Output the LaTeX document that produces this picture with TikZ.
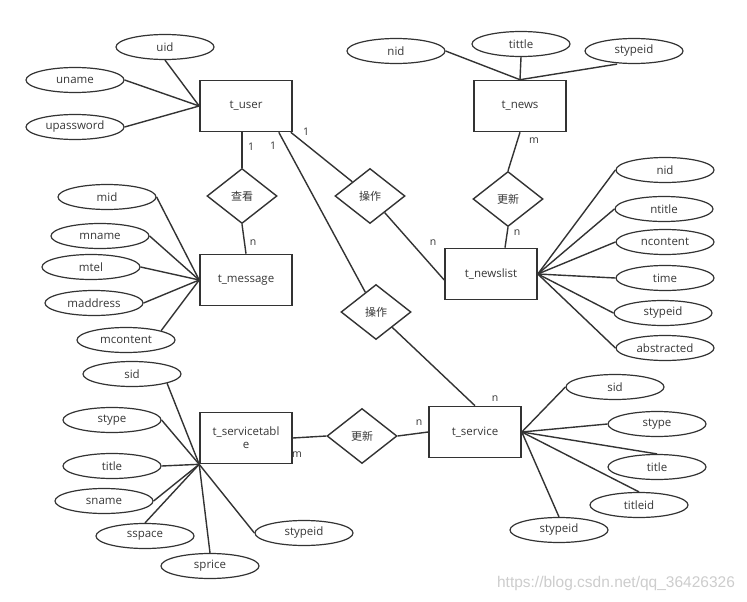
\documentclass[tikz,border=0pt]{standalone}
\usepackage{fontspec}
\setmainfont{Open Sans}
\newfontfamily\cjk{Noto Sans CJK SC}
\newfontfamily\wmfont{Liberation Sans}
\usetikzlibrary{shapes.geometric}
\definecolor{ln}{RGB}{51,51,51}
\definecolor{tx}{RGB}{55,55,55}
\definecolor{wm}{RGB}{205,205,205}
\begin{document}
\begin{tikzpicture}[x=1pt,y=-1pt,
  font=\fontsize{11.5}{13}\selectfont, text=tx,
  entity/.style={draw=ln, line width=1.6pt, minimum width=92pt, minimum height=51pt, inner sep=0pt, align=center},
  attr/.style={ellipse, draw=ln, line width=1.2pt, minimum width=98pt, minimum height=25pt, inner sep=0pt},
  rel/.style={diamond, draw=ln, line width=1.4pt, minimum width=70pt, minimum height=55pt, inner sep=0pt, font=\cjk\fontsize{11}{12}\selectfont},
  conn/.style={draw=ln, line width=1.4pt},
  card/.style={font=\fontsize{10.5}{12}\selectfont, text=tx, inner sep=0pt}]
\useasboundingbox[fill=white] (0,0) rectangle (747,602);

% entities
\node[entity] (user) at (246,106) {t\_user};
\node[entity] (news) at (520,106) {t\_news};
\node[entity] (msg) at (246,280) {t\_message};
\node[entity] (nlist) at (491,274) {t\_newslist};
\node[entity] (stab) at (246,438) {t\_servicetabl\\e};
\node[entity] (serv) at (475,432) {t\_service};

% relationships
\node[rel] (look) at (242,196) {查看};
\node[rel] (op1) at (370,196) {操作};
\node[rel] (upd1) at (508,199) {更新};
\node[rel] (op2) at (376,312) {操作};
\node[rel] (upd2) at (362,436) {更新};

% attributes
\node[attr] (uid) at (165,47) {uid};
\node[attr] (uname) at (75,80) {uname};
\node[attr] (upw) at (75,127) {upassword};

\node[attr] (nnid) at (396,51) {nid};
\node[attr] (ntittle) at (521,44) {tittle};
\node[attr] (nstypeid) at (634,51) {stypeid};

\node[attr] (lnid) at (665,170) {nid};
\node[attr] (lntitle) at (664,209) {ntitle};
\node[attr] (lncontent) at (665,242) {ncontent};
\node[attr] (ltime) at (665,278) {time};
\node[attr] (lstypeid) at (663,313) {stypeid};
\node[attr] (labs) at (665,348) {abstracted};

\node[attr] (mid) at (107,197) {mid};
\node[attr] (mname) at (100,236) {mname};
\node[attr] (mtel) at (91,267) {mtel};
\node[attr] (maddr) at (94,303) {maddress};
\node[attr] (mcont) at (126,340) {mcontent};

\node[attr] (tsid) at (132,374) {sid};
\node[attr] (tstype) at (112,420) {stype};
\node[attr] (ttitle) at (112,466) {title};
\node[attr] (tsname) at (104,501) {sname};
\node[attr] (tsspace) at (145,536) {sspace};
\node[attr] (tsprice) at (210,566) {sprice};
\node[attr] (tstypeid) at (304,533) {stypeid};

\node[attr] (ssid) at (615,387) {sid};
\node[attr] (sstype) at (657,424) {stype};
\node[attr] (stitle) at (657,467) {title};
\node[attr] (stitleid) at (639,505) {titleid};
\node[attr] (sstypeid) at (559,530) {stypeid};

% attribute connectors
\draw[conn] (uid.south) -- (user.west);
\draw[conn] (uname.east) -- (user.west);
\draw[conn] (upw.east) -- (user.west);

\draw[conn] (nnid.east) -- (news.north);
\draw[conn] (ntittle.south) -- (news.north);
\draw[conn] ([xshift=-17pt]nstypeid.south) -- (news.north);

\foreach \a in {lnid,lntitle,lncontent,ltime,lstypeid,labs}
  \draw[conn] (\a.west) -- (nlist.east);

\foreach \a in {mid,mname,mtel,maddr}
  \draw[conn] (\a.east) -- (msg.west);
\draw[conn] (mcont.north east) -- (msg.west);

\draw[conn] (tsid.south east) -- (stab.south west);
\draw[conn] (tstype.east) -- (stab.south west);
\draw[conn] (ttitle.east) -- (stab.south west);
\draw[conn] (tsname.east) -- (stab.south west);
\draw[conn] (tsspace.north) -- (stab.south west);
\draw[conn] (tsprice.north) -- (stab.south west);
\draw[conn] (tstypeid.west) -- (stab.south west);

\draw[conn] (ssid.west) -- (serv.east);
\draw[conn] (sstype.west) -- (serv.east);
\draw[conn] (stitle.north) -- (serv.east);
\draw[conn] (stitleid.north) -- (serv.east);
\draw[conn] (sstypeid.north) -- (serv.east);

% relationship connectors
\draw[conn] ([xshift=-4pt]user.south) -- (look.north);
\draw[conn] (look.south) -- (msg.north);
\draw[conn] ([xshift=-2pt]user.south east) -- (op1);
\draw[conn] (op1) -- ([yshift=-6pt]nlist.west);
\draw[conn] ([xshift=-14pt]user.south east) -- (op2);
\draw[conn] (op2) -- (serv.north);
\draw[conn] (news.south) -- (upd1.north);
\draw[conn] (upd1.south) -- ([xshift=14pt]nlist.north);
\draw[conn] (stab.east) -- (upd2.west);
\draw[conn] (upd2.east) -- (serv.west);

% cardinalities
\node[card] (c1) at (251,147) {1};
\node[card] (c2) at (253,243) {n};
\node[card] (c3) at (306,132) {1};
\node[card] (c4) at (433,243) {n};
\node[card] (c5) at (273,146) {1};
\node[card] (c6) at (495,399) {n};
\node[card] (c7) at (534,141) {m};
\node[card] (c8) at (517,233) {n};
\node[card] (c9) at (297,455) {m};
\node[card] (c10) at (419,423) {n};

% watermark
\node[font=\wmfont\fontsize{15.5}{17}\selectfont, text=wm, inner sep=0pt] (wmk) at (616,583) {https://blog.csdn.net/qq\_36426326};
\end{tikzpicture}
\end{document}
